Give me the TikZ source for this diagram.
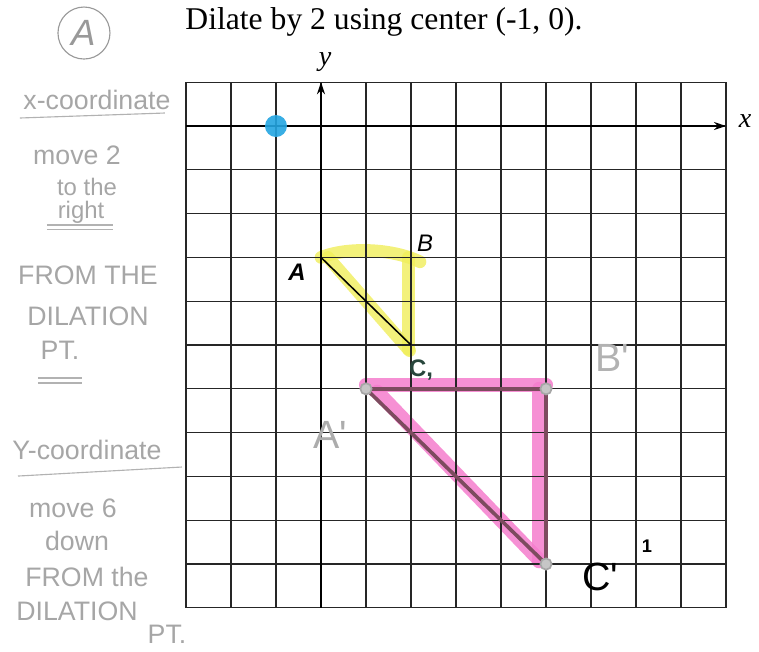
\documentclass[tikz,border=0pt]{standalone}
\usepackage{fontspec}
\setmainfont{Liberation Serif}
\newfontfamily\handfont{Liberation Sans}
\usepackage{xcolor}
\usepackage{tikz}
\usetikzlibrary{arrows.meta, positioning}

\definecolor{hlyellow}{RGB}{240,238,90}
\definecolor{hlpink}{RGB}{245,125,205}
\definecolor{penmauve}{RGB}{125,75,95}
\definecolor{dotblue}{RGB}{35,165,225}
\definecolor{pengreen}{RGB}{40,70,60}

\begin{document}
\begin{tikzpicture}[
    x=1.125cm, y=1.095cm,
    gridline/.style={line width=0.9pt, black!85},
    axis/.style={line width=1pt, -{Stealth[length=3mm, width=2mm]}},
    note/.style={font=\handfont\fontsize{19}{20}\selectfont, text=gray!70, inner sep=1pt},
    noteline/.style={gray!60, line width=0.8pt},
    pen/.style={font=\handfont\fontsize{15}{16}\selectfont, inner sep=0pt},
    yellowhl/.style={hlyellow, line width=9pt, opacity=0.8, line cap=round},
    pinkhl/.style={hlpink, line width=10pt, opacity=0.85, line cap=round},
    mauveline/.style={penmauve, line width=2.6pt},
    vertexdot/.style={circle, draw=gray!70, fill=gray!45, line width=1.2pt, minimum size=8pt, inner sep=0pt}
]
\useasboundingbox (-7.133,-11.986) rectangle (9.733,2.877);

% Title
\node[font=\fontsize{22.5}{26}\selectfont] (title) at (1.4,2.374) {Dilate by 2 using center (-1, 0).};

% Circled letter
\node[circle, draw=gray!80, line width=0.8pt, minimum size=1.3cm, inner sep=0pt, pen, text=gray!80] (part) at (-5.267,2.123) {\fontsize{26}{28}\selectfont\itshape A};

% Highlights (under the grid)
\coordinate (A) at (0,-3);
\coordinate (B) at (2,-3);
\coordinate (C) at (2,-5);
\coordinate (A1) at (1,-6);
\coordinate (B1) at (5,-6);
\coordinate (C1) at (5,-10);
\coordinate (O) at (-1,0);

\draw[yellowhl] (A) .. controls (0.6,-2.75) and (1.6,-2.8) .. (2.2,-3.1);
\draw[yellowhl] ([xshift=-2pt]B) -- ([xshift=-2pt,yshift=-3pt]C);
\draw[yellowhl] ([xshift=5pt]A) -- ([xshift=-1pt,yshift=-4pt]C);

\draw[pinkhl] ([yshift=3pt]A1) -- ([yshift=3pt]B1);
\draw[pinkhl] ([xshift=-5pt]B1) -- ([xshift=-5pt,yshift=2pt]C1);
\draw[pinkhl] ([xshift=8pt,yshift=-2pt]A1) -- ([xshift=-6pt,yshift=4pt]C1);

% Grid and axes
\foreach \i in {-3,...,9}
    \draw[gridline] (\i,-11) -- (\i,1);
\foreach \j in {-11,...,1}
    \draw[gridline] (-3,\j) -- (9,\j);
\draw[axis] (0,-11) -- (0,1);
\draw[axis] (-3,0) -- (9,0);
\node[font=\fontsize{20}{22}\selectfont\itshape] (ylab) at (0.089,1.461) {y};
\node[font=\fontsize{20}{22}\selectfont\itshape] (xlab) at (9.422,0.12) {x};

% Original triangle
\draw[line width=1.1pt] (A) -- (C);

% Image triangle
\draw[mauveline] (A1) -- (B1);
\draw[mauveline] (B1) -- (C1);
\draw[mauveline] (A1) -- (C1);
\node[vertexdot] (dA1) at (A1) {};
\node[vertexdot] (dB1) at (B1) {};
\node[vertexdot] (dC1) at (C1) {};

% Centre of dilation
\node[circle, fill=dotblue, opacity=0.9, minimum size=0.55cm, inner sep=0pt] (centre) at (O) {};

% Vertex labels
\node[pen, text=black, font=\handfont\fontsize{17}{18}\selectfont] (labA) at (-0.533,-3.333) {\bfseries\itshape A};
\node[pen, text=black, font=\handfont\fontsize{17}{18}\selectfont] (labB) at (2.311,-2.671) {\itshape B};
\node[pen, text=pengreen, font=\handfont\fontsize{17}{18}\selectfont] (labC) at (2.222,-5.571) {\bfseries C,};
\node[pen, text=gray!65, font=\handfont\fontsize{28}{30}\selectfont] (labA1) at (0.2,-7.055) {A\textquotesingle};
\node[pen, text=gray!60, font=\handfont\fontsize{28}{30}\selectfont] (labB1) at (6.467,-5.297) {B\textquotesingle};
\node[pen, text=black, font=\handfont\fontsize{28}{30}\selectfont] (labC1) at (6.2,-10.297) {C\textquotesingle};
\node[pen, text=black, font=\handfont\bfseries\fontsize{13}{14}\selectfont] (mark) at (7.244,-9.589) {1};

% Notes on the left
\node[note] (xcoord) at (-4.978,0.594) {x-coordinate};
\draw[noteline] (-6.689,0.183) -- (-3.467,0.297);
\node[note] (move2) at (-5.422,-0.662) {move 2};
\node[note, font=\handfont\fontsize{17}{18}\selectfont] (tothe) at (-5.2,-1.38) {to the};
\node[note, font=\handfont\fontsize{17}{18}\selectfont] (right) at (-5.333,-1.96) {right};
\draw[noteline] (-6.089,-2.26) -- (-4.622,-2.26);
\draw[noteline] (-6.089,-2.37) -- (-4.622,-2.37);
\node[note] (from1) at (-5.178,-3.402) {FROM THE};
\node[note] (dil1) at (-5.178,-4.338) {DILATION};
\node[note] (pt1) at (-5.8,-5.114) {PT.};
\draw[noteline] (-6.289,-5.753) -- (-5.311,-5.753);
\draw[noteline] (-6.289,-5.868) -- (-5.311,-5.868);

\node[note] (ycoord) at (-5.2,-7.397) {Y-coordinate};
\draw[noteline] (-6.733,-7.991) -- (-3.089,-7.785);
\node[note] (move6) at (-5.511,-8.721) {move 6};
\node[note] (down) at (-5.422,-9.475) {down};
\node[note] (from2) at (-5.2,-10.297) {FROM the};
\node[note] (dil2) at (-5.422,-11.08) {DILATION};
\node[note] (pt2) at (-3.422,-11.6) {PT.};
\end{tikzpicture}
\end{document}
